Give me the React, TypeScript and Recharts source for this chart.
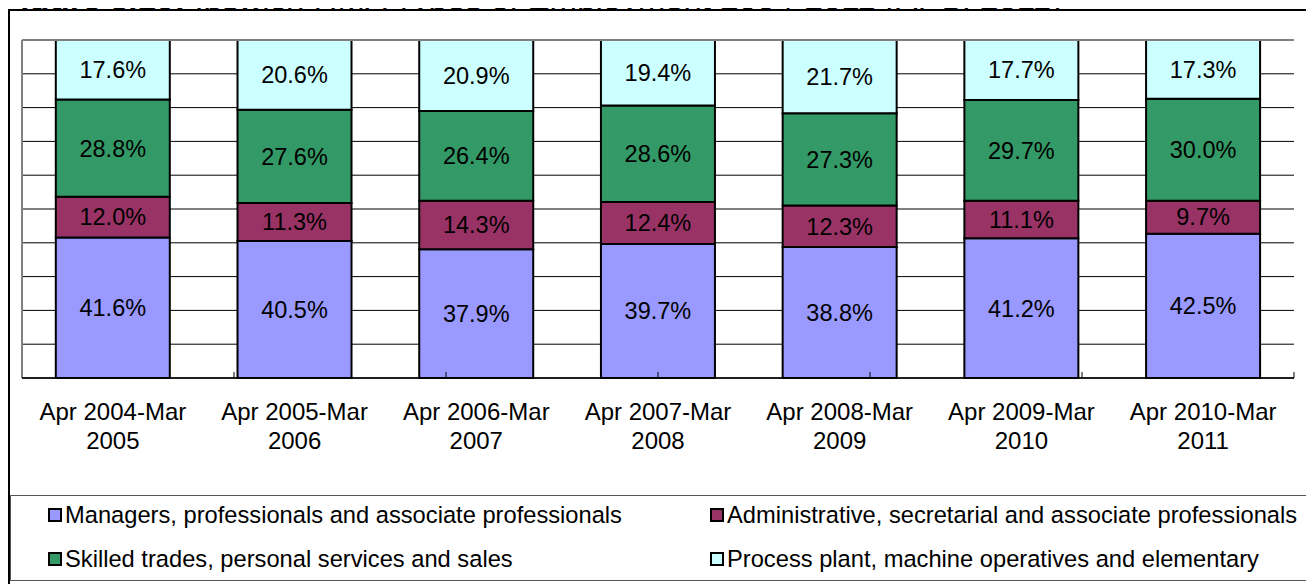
import React from 'react';
import {
  BarChart, Bar, XAxis, YAxis, CartesianGrid, LabelList, ReferenceLine,
} from 'recharts';

const periods = [
  'Apr 2004-Mar 2005',
  'Apr 2005-Mar 2006',
  'Apr 2006-Mar 2007',
  'Apr 2007-Mar 2008',
  'Apr 2008-Mar 2009',
  'Apr 2009-Mar 2010',
  'Apr 2010-Mar 2011',
];

const managers = [41.6, 40.5, 37.9, 39.7, 38.8, 41.2, 42.5];
const admin = [12.0, 11.3, 14.3, 12.4, 12.3, 11.1, 9.7];
const skilled = [28.8, 27.6, 26.4, 28.6, 27.3, 29.7, 30.0];
const process = [17.6, 20.6, 20.9, 19.4, 21.7, 17.7, 17.3];

const seriesNames = [
  'Managers, professionals and associate professionals',
  'Administrative, secretarial and associate professionals',
  'Skilled trades, personal services and sales',
  'Process plant, machine operatives and elementary',
];

const COLORS = ['#9999FF', '#993366', '#339966', '#CCFFFF'];
const FONT = "'Liberation Sans', Arial, sans-serif";

const data = periods.map((p, i) => ({
  period: p,
  managers: managers[i],
  admin: admin[i],
  skilled: skilled[i],
  process: process[i],
}));

// boundaries between categories, for the small inside ticks
const boundaries = periods.slice(1).map((_, i) => i + 1);

const PeriodTick = (props: any) => {
  const { x, y, payload } = props;
  const label: string = payload.value;
  const cut = label.lastIndexOf(' ');
  return (
    <text x={x} y={y} textAnchor="middle" fill="#000" fontSize={24} fontFamily={FONT}>
      <tspan x={x} dy={42}>{label.slice(0, cut)}</tspan>
      <tspan x={x} dy={29}>{label.slice(cut + 1)}</tspan>
    </text>
  );
};

const fmt = (v: any) => `${Number(v).toFixed(1)}%`;

const legendPos = [
  { left: 48, top: 502 },
  { left: 710, top: 502 },
  { left: 48, top: 546 },
  { left: 710, top: 546 },
];

export default function App() {
  const keys = ['managers', 'admin', 'skilled', 'process'];
  return (
    <div style={{
      position: 'relative',
      width: 1314,
      height: 584,
      margin: '-8px 0 0 -8px',
      overflow: 'hidden',
      background: 'white',
      fontFamily: FONT,
    }}>
      <div style={{
        position: 'absolute',
        left: 0,
        top: -18,
        fontSize: 33,
        lineHeight: '33px',
        whiteSpace: 'nowrap',
        color: '#000',
      }}>
        <b>Figure 3.10:</b> Ipswich HMA Types of Employment 2004-2011 (APS, 2011)
      </div>

      <div style={{
        position: 'absolute',
        left: 8,
        top: 9,
        width: 1400,
        height: 700,
        border: '2px solid #000',
        background: 'white',
      }} />

      <div style={{ position: 'absolute', left: 0, top: 0 }}>
        <BarChart
          width={1314}
          height={584}
          data={data}
          stackOffset="expand"
          barCategoryGap="18.6%"
          margin={{ top: 40, left: 22, right: 20, bottom: 146 }}
        >
          <CartesianGrid horizontal vertical={false} stroke="#000" strokeWidth={1} />
          <YAxis hide domain={[0, 1]} ticks={[0, 0.1, 0.2, 0.3, 0.4, 0.5, 0.6, 0.7, 0.8, 0.9, 1]} />
          <XAxis
            dataKey="period"
            height={60}
            interval={0}
            tickLine={false}
            tickSize={0}
            tickMargin={0}
            axisLine={{ stroke: '#000', strokeWidth: 1.5 }}
            tick={<PeriodTick />}
          />
          <XAxis xAxisId="b" type="number" domain={[0, periods.length]} hide />
          {keys.map((k, i) => (
            <Bar
              key={k}
              dataKey={k}
              name={seriesNames[i]}
              stackId="a"
              fill={COLORS[i]}
              stroke="#000"
              strokeWidth={2}
              isAnimationActive={false}
            >
              <LabelList
                dataKey={k}
                position="center"
                formatter={fmt}
                fill="#000"
                fontSize={23.5}
                fontFamily={FONT}
              />
            </Bar>
          ))}
          {boundaries.map((b) => (
            <ReferenceLine
              key={b}
              xAxisId="b"
              segment={[{ x: b, y: 0 }, { x: b, y: 0.018 }]}
              stroke="#000"
              strokeWidth={1}
            />
          ))}
          <ReferenceLine y={1} stroke="#808080" strokeWidth={2} />
          <ReferenceLine xAxisId="b" x={0} stroke="#808080" strokeWidth={2} />
          <ReferenceLine xAxisId="b" x={periods.length} stroke="#808080" strokeWidth={2} />
        </BarChart>
      </div>

      <div style={{
        position: 'absolute',
        left: 10,
        top: 495,
        width: 1302,
        height: 86,
        boxSizing: 'border-box',
        border: '1.5px solid #555',
      }} />
      {seriesNames.map((name, i) => (
        <div key={name} style={{
          position: 'absolute',
          left: legendPos[i].left,
          top: legendPos[i].top,
          display: 'flex',
          alignItems: 'center',
          gap: 3,
          fontSize: 23.7,
          lineHeight: '26px',
          whiteSpace: 'nowrap',
          color: '#000',
        }}>
          <div style={{
            width: 10,
            height: 10,
            border: '2px solid #000',
            background: COLORS[i],
          }} />
          <span>{name}</span>
        </div>
      ))}
    </div>
  );
}
